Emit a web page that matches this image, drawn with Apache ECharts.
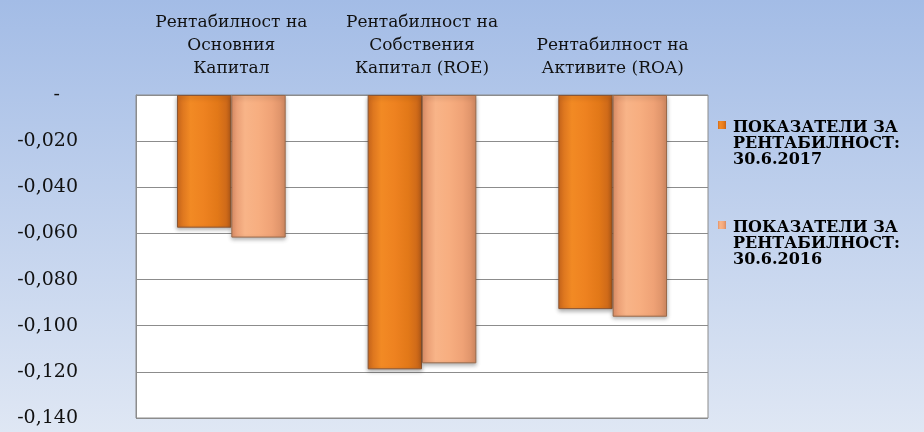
<!DOCTYPE html>
<html>
<head>
<meta charset="utf-8">
<title>Показатели за рентабилност</title>
<script src="https://cdn.jsdelivr.net/npm/echarts@6/dist/echarts.min.js"></script>
<style>
  html, body { margin: 0; padding: 0; }
  #chart { width: 924px; height: 432px; }
</style>
</head>
<body>
<div id="chart"></div>
<script>
// categories and values
const categories = [
  'Рентабилност на\nОсновния\nКапитал',
  'Рентабилност на\nСобствения\nКапитал (ROE)',
  'Рентабилност на\nАктивите (ROA)'
]
const seriesNames = [
  'ПОКАЗАТЕЛИ ЗА РЕНТАБИЛНОСТ: 30.6.2017',
  'ПОКАЗАТЕЛИ ЗА РЕНТАБИЛНОСТ: 30.6.2016'
]
const values2017 = [-0.0575, -0.1189, -0.0928]
const values2016 = [-0.0618, -0.1163, -0.0961]
const yMin = -0.14
const yMax = 0
const yStep = 0.02

const serifFont = '"DejaVu Serif", "Liberation Serif", serif'

function hGradient (stops) {
  return new echarts.graphic.LinearGradient(0, 0, 1, 0, stops.map((c, i) => {
    return { offset: i / (stops.length - 1), color: c }
  }))
}

const fill2017 = hGradient(['#d06a1c', '#f28a24', '#ee8220', '#e27818', '#c4621a'])
const fill2016 = hGradient(['#e2926a', '#f8b488', '#f7ae80', '#efa276', '#d68c64'])

// square sitting at the top of a tall box, so the legend marker lines up with the first text line
const legendIcon = 'path://M0,0L8,0M0,1H8V9H0ZM0,48L8,48'

const chart = echarts.init(document.getElementById('chart'))

const option = {
  backgroundColor: new echarts.graphic.LinearGradient(0, 0, 0, 1, [
    { offset: 0, color: '#a3bce6' },
    { offset: 1, color: '#dfe7f4' }
  ]),
  animation: false,
  grid: {
    left: 136,
    right: 216,
    top: 95,
    bottom: 14,
    show: true,
    backgroundColor: '#ffffff',
    borderColor: '#8c8c8c',
    borderWidth: 1
  },
  legend: {
    orient: 'vertical',
    left: 713,
    top: 115,
    itemGap: 52,
    itemWidth: 8,
    itemHeight: 48,
    icon: legendIcon,
    itemStyle: { borderWidth: 0 },
    formatter (name) {
      return name.replace(' РЕНТ', '\nРЕНТ').replace(': ', ':\n')
    },
    textStyle: {
      fontFamily: serifFont,
      fontWeight: 'bold',
      fontSize: 16,
      lineHeight: 16,
      color: '#000',
      padding: [0, 0, 0, 2]
    }
  },
  xAxis: {
    type: 'category',
    position: 'top',
    data: categories,
    axisLine: { show: false },
    axisTick: { show: false },
    axisLabel: {
      interval: 0,
      margin: 15,
      fontFamily: serifFont,
      fontSize: 17,
      lineHeight: 23,
      color: '#111'
    }
  },
  yAxis: {
    type: 'value',
    min: yMin,
    max: yMax,
    interval: yStep,
    axisLine: { show: true, lineStyle: { color: '#8c8c8c' } },
    axisTick: { show: false },
    splitLine: { lineStyle: { color: '#8c8c8c', width: 1 } },
    axisLabel: {
      margin: 58,
      fontFamily: serifFont,
      fontSize: 19,
      color: '#111',
      formatter (v) {
        if (Math.abs(v) < 1e-9) return '{z|-}'
        return v.toFixed(3).replace('.', ',')
      },
      rich: {
        z: {
          fontFamily: serifFont,
          fontSize: 19,
          color: '#111',
          padding: [0, 18, 0, 0]
        }
      }
    }
  },
  series: [
    {
      name: seriesNames[0],
      type: 'bar',
      data: values2017,
      barGap: '0%',
      barCategoryGap: '43%',
      itemStyle: {
        color: fill2017,
        borderColor: '#8a5534',
        borderWidth: 1,
        shadowColor: 'rgba(0, 0, 0, 0.3)',
        shadowBlur: 4,
        shadowOffsetY: 2
      }
    },
    {
      name: seriesNames[1],
      type: 'bar',
      data: values2016,
      barGap: '0%',
      barCategoryGap: '43%',
      itemStyle: {
        color: fill2016,
        borderColor: '#9a6a4a',
        borderWidth: 1,
        shadowColor: 'rgba(0, 0, 0, 0.3)',
        shadowBlur: 4,
        shadowOffsetY: 2
      }
    }
  ]
}

chart.setOption(option)
</script>
</body>
</html>
